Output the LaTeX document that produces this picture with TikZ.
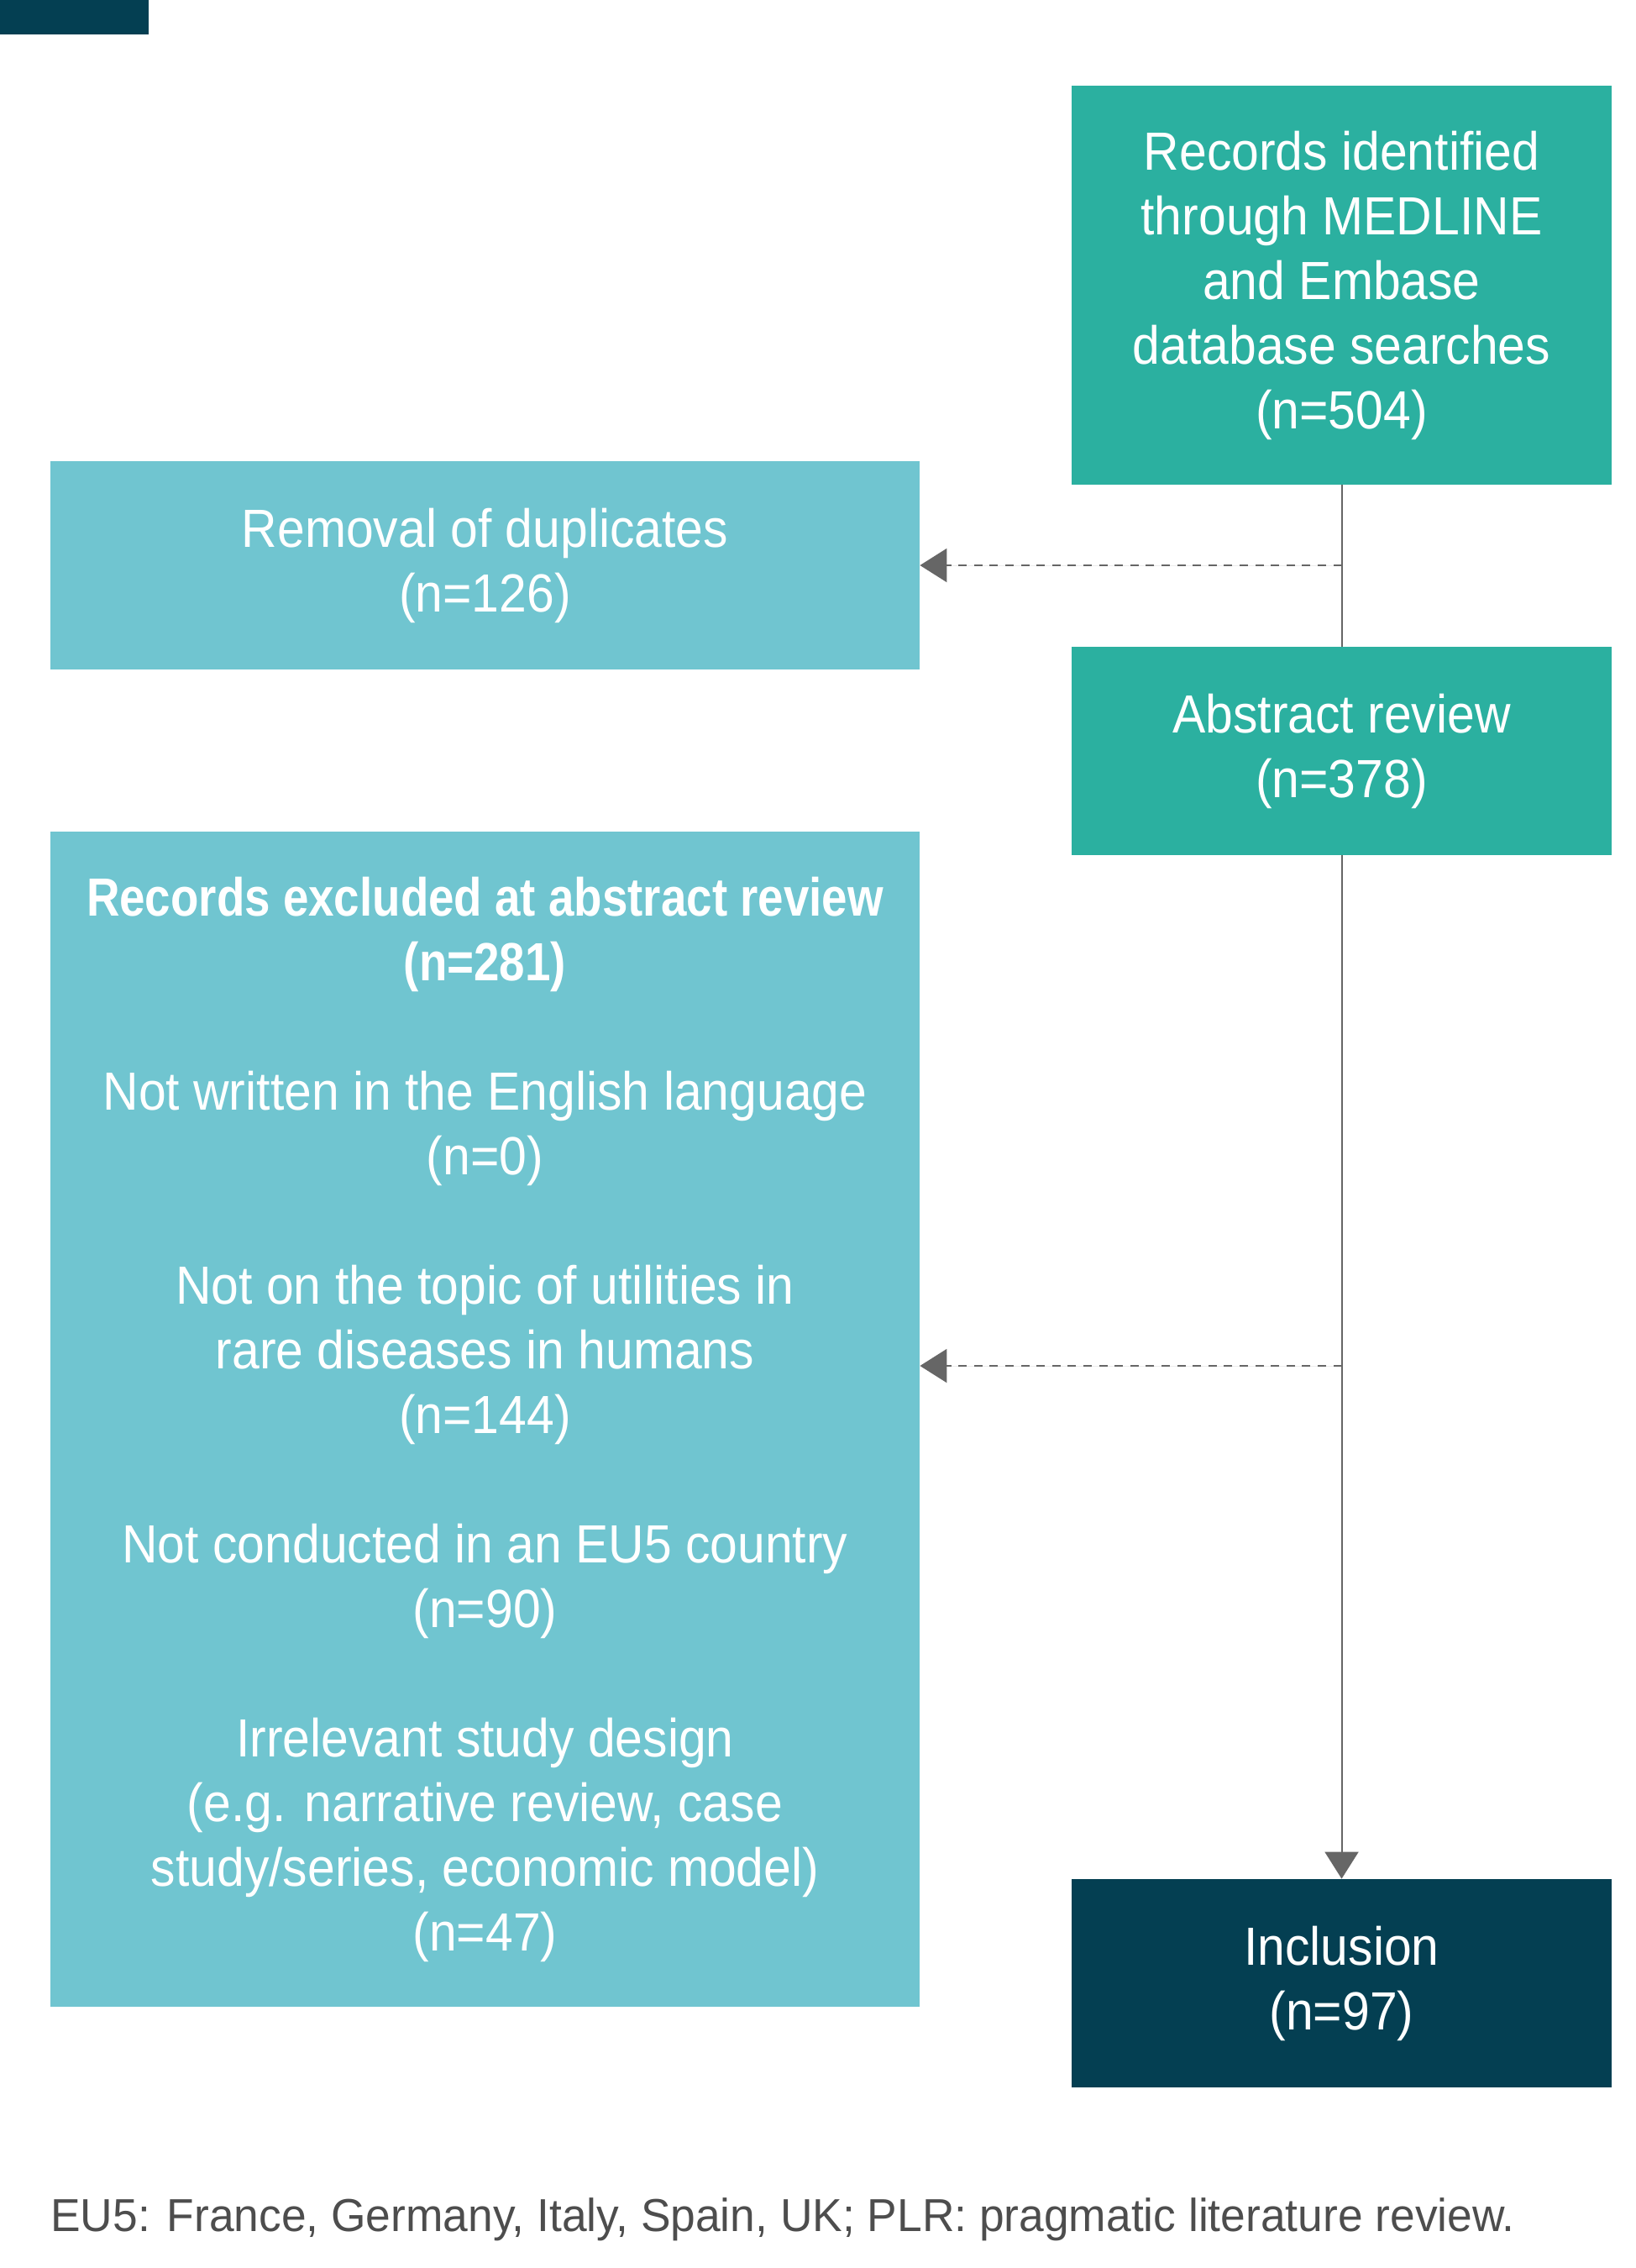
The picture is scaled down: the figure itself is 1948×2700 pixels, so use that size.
\documentclass[tikz,border=0pt]{standalone}
\usepackage{fontspec}
\setmainfont{Liberation Sans}[FakeStretch=0.92]
\newfontfamily\headfont{Liberation Sans}[FakeStretch=0.855]
\newfontfamily\notefont{Liberation Sans}[FakeStretch=0.97]
\usetikzlibrary{arrows.meta}

\definecolor{navybox}{HTML}{043F52}
\definecolor{tealfill}{HTML}{2BB0A0}
\definecolor{bluefill}{HTML}{70C5D0}
\definecolor{linegray}{HTML}{666666}
\definecolor{notegray}{HTML}{4D4D4D}

\tikzset{
  box/.style={text=white, align=center, inner sep=0pt,
    font=\fontsize{32}{38.5}\selectfont},
  tealbox/.style={box, fill=tealfill, minimum width=321.5pt},
  bluebox/.style={box, fill=bluefill, minimum width=517.5pt},
  darkbox/.style={box, fill=navybox, minimum width=321.5pt},
  flow/.style={draw=linegray, line width=1pt},
  skip/.style={flow, dash pattern=on 5pt off 4.3pt,
    -{Triangle[length=16pt, width=20pt]}, fill=linegray}
}

\begin{document}
\begin{tikzpicture}[x=0.5pt, y=-0.5pt]
\useasboundingbox (0,0) rectangle (1948,2700);

\fill[navybox] (0,0) rectangle (177,41);

\node[tealbox, minimum height=237.5pt] (search) at (1597.5,339.5)
  {Records identified\\through MEDLINE\\and Embase\\database searches\\(n=504)};
\node[bluebox, minimum height=124pt] (dupl) at (577.5,673)
  {Removal of duplicates\\(n=126)};
\node[tealbox, minimum height=124pt] (abstr) at (1597.5,894)
  {Abstract review\\(n=378)};
\node[bluebox, minimum height=699.5pt] (excl) at (577.5,1689.5)
  {{\headfont\bfseries Records excluded at abstract review}\\{\headfont\bfseries (n=281)}\\[38.5pt]
   Not written in the English language\\(n=0)\\[38.5pt]
   Not on the topic of utilities in\\rare diseases in humans\\(n=144)\\[38.5pt]
   Not conducted in an EU5 country\\(n=90)\\[38.5pt]
   Irrelevant study design\\(e.g. narrative review, case\\study/series, economic model)\\(n=47)};
\node[darkbox, minimum height=124pt] (incl) at (1597.5,2361)
  {Inclusion\\(n=97)};

\coordinate (tap1) at (1597.5,673);
\coordinate (tap2) at (1597.5,1626);

\draw[flow] (search) -- (abstr);
\draw[flow, -{Triangle[length=16pt, width=20pt]}, fill=linegray] (abstr) -- (incl);
\draw[skip] (tap1) -- (dupl.east);
\draw[skip] (tap2) -- (tap2 -| excl.east);

\node[anchor=base west, inner sep=0pt, text=notegray,
  font=\notefont\fontsize{27.5}{33}\selectfont] (note) at (60,2656)
  {EU5: France, Germany, Italy, Spain, UK; PLR: pragmatic literature review.};
\end{tikzpicture}
\end{document}
